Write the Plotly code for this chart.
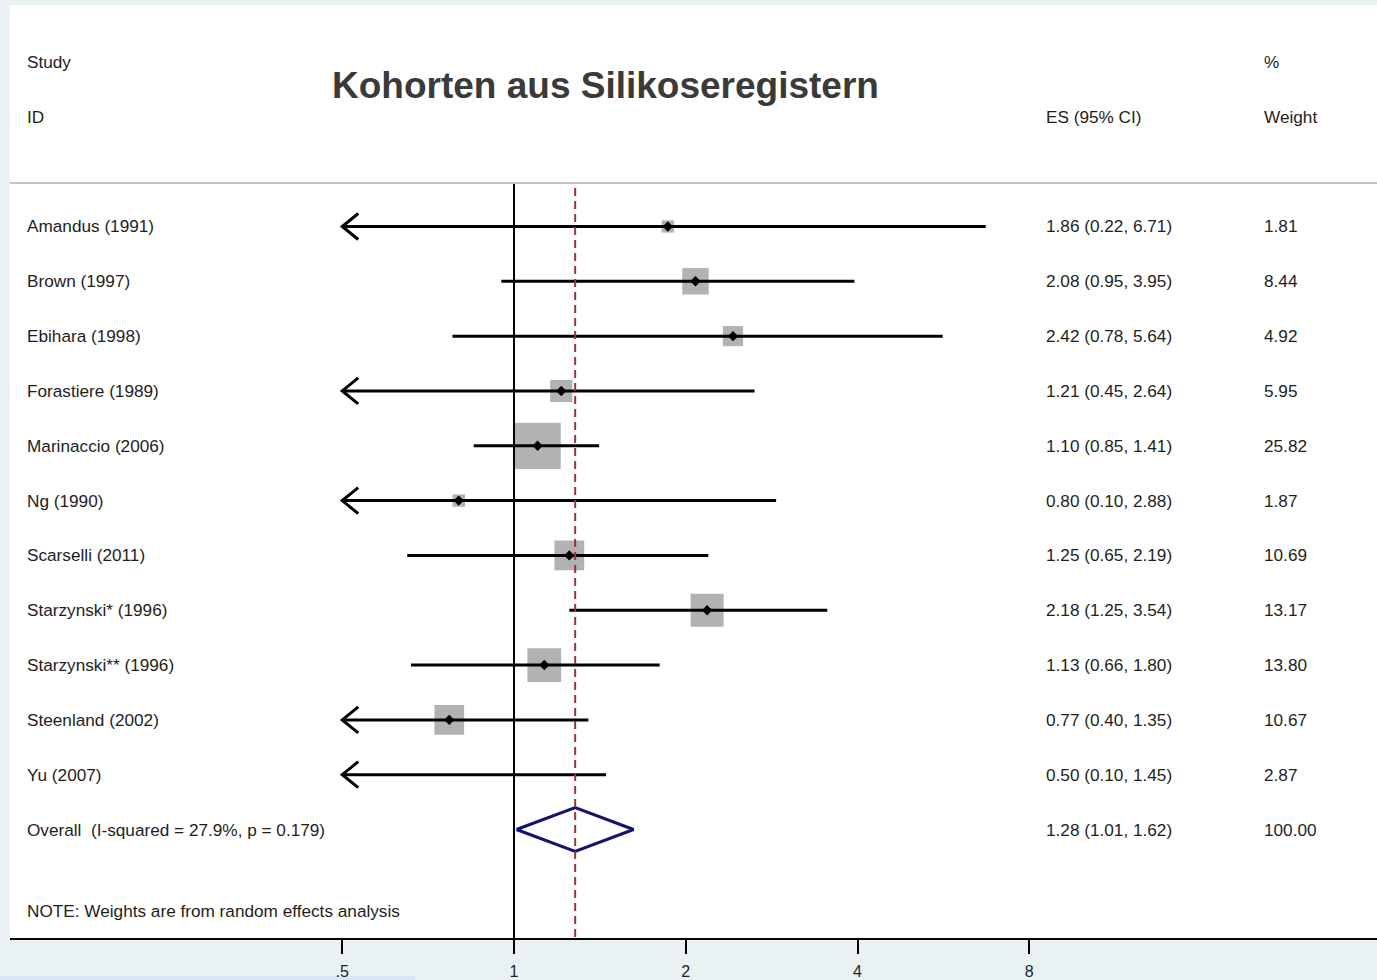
import math
import plotly.graph_objects as go

# ---- study data (ES with 95% CI, random-effects % weight) ----
studies = ["Amandus (1991)", "Brown (1997)", "Ebihara (1998)", "Forastiere (1989)",
           "Marinaccio (2006)", "Ng (1990)", "Scarselli (2011)", "Starzynski* (1996)",
           "Starzynski** (1996)", "Steenland (2002)", "Yu (2007)"]
es = [1.86, 2.08, 2.42, 1.21, 1.10, 0.80, 1.25, 2.18, 1.13, 0.77, 0.50]
ci_low = [0.22, 0.95, 0.78, 0.45, 0.85, 0.10, 0.65, 1.25, 0.66, 0.40, 0.10]
ci_high = [6.71, 3.95, 5.64, 2.64, 1.41, 2.88, 2.19, 3.54, 1.80, 1.35, 1.45]
weights = [1.81, 8.44, 4.92, 5.95, 25.82, 1.87, 10.69, 13.17, 13.80, 10.67, 2.87]

overall_label = "Overall  (I-squared = 27.9%, p = 0.179)"
overall_es, overall_low, overall_high = 1.28, 1.01, 1.62
overall_weight = 100.00

tick_vals = [0.5, 1, 2, 4, 8]
tick_text = [".5", "1", "2", "4", "8"]

title = "Kohorten aus Silikoseregistern"
note = "NOTE: Weights are from random effects analysis"

# ---- geometry ----
W, H = 1377, 980
x_min = 0.5                      # left clipping limit of the axis
px_per_dec = 570.6               # pixels per log10 unit
dom_left = 10
one_px = 514 - dom_left
r0 = -one_px / px_per_dec
r1 = (W - dom_left - one_px) / px_per_dec

row_px = 54.82
row1_px = 226.5
top_px, bot_px = 5, 938
y_top = 1 - (row1_px - top_px) / row_px
y_bot = 1 + (bot_px - row1_px) / row_px

n = len(studies)
rows = list(range(1, n + 1))
overall_row = n + 1

font_fam = "Liberation Sans, Arial, sans-serif"
txt_col = "#1e1e1e"

fig = go.Figure()

# weight boxes (area proportional to weight)
bx, by, bs = [], [], []
for e, r, w in zip(es, rows, weights):
    if e > x_min:
        bx.append(e); by.append(r); bs.append(9.1 * math.sqrt(w))
fig.add_trace(go.Scatter(x=bx, y=by, mode="markers",
                         marker=dict(symbol="square", size=bs, color="#b2b2b2",
                                     opacity=1, line=dict(width=0)),
                         hoverinfo="skip", showlegend=False))

# confidence interval lines, clipped at the axis minimum
lx, ly = [], []
for lo, hi, r in zip(ci_low, ci_high, rows):
    lx += [max(lo, x_min), hi, None]
    ly += [r, r, None]
fig.add_trace(go.Scatter(x=lx, y=ly, mode="lines",
                         line=dict(color="black", width=3),
                         hoverinfo="skip", showlegend=False))

# open arrowheads where the lower limit runs off the axis
arm_x = x_min * 10 ** (16 / px_per_dec)
arm_y = 13 / row_px
ax, ay = [], []
for lo, r in zip(ci_low, rows):
    if lo < x_min:
        ax += [arm_x, x_min, arm_x, None]
        ay += [r - arm_y, r, r + arm_y, None]
fig.add_trace(go.Scatter(x=ax, y=ay, mode="lines",
                         line=dict(color="black", width=3),
                         hoverinfo="skip", showlegend=False))

# point estimates
px_, py_ = [], []
for e, r in zip(es, rows):
    if e > x_min:
        px_.append(e); py_.append(r)
fig.add_trace(go.Scatter(x=px_, y=py_, mode="markers",
                         marker=dict(symbol="diamond", size=8, color="black"),
                         hoverinfo="skip", showlegend=False))

# pooled estimate diamond
dh = 22 / row_px
fig.add_trace(go.Scatter(
    x=[overall_low, overall_es, overall_high, overall_es, overall_low],
    y=[overall_row, overall_row - dh, overall_row, overall_row + dh, overall_row],
    mode="lines", line=dict(color="#141470", width=3),
    hoverinfo="skip", showlegend=False))

# line of no effect
y_sep = 1 + (183 - row1_px) / row_px
fig.add_trace(go.Scatter(x=[1, 1], y=[y_sep, y_bot], mode="lines",
                         line=dict(color="black", width=2),
                         hoverinfo="skip", showlegend=False))

# dashed line at the pooled estimate
y_dash0 = 1 + (188 - row1_px) / row_px
fig.add_trace(go.Scatter(x=[overall_es, overall_es], y=[y_dash0, y_bot], mode="lines",
                         line=dict(color="#a0303a", width=2, dash="8px,5px"),
                         hoverinfo="skip", showlegend=False))

# ---- text columns ----
ann = []
col_lab = 25 / W
col_es = 1044 / W
col_w = 1262 / W


def txt(x, y, s, size=17.2, **kw):
    d = dict(x=x, y=y, xref="paper", yref="y", text=s, showarrow=False,
             xanchor="left", yanchor="middle",
             font=dict(family=font_fam, size=size, color=txt_col))
    d.update(kw)
    ann.append(d)


txt(col_lab, -2, "Study")
txt(col_lab, -1, "ID")
txt(col_w, -2, "%")
txt(col_es, -1, "ES (95% CI)")
txt(col_w, -1, "Weight")

for s, e, lo, hi, w, r in zip(studies, es, ci_low, ci_high, weights, rows):
    txt(col_lab, r, s)
    txt(col_es, r, f"{e:.2f} ({lo:.2f}, {hi:.2f})")
    txt(col_w, r, f"{w:.2f}")

txt(col_lab, overall_row, overall_label)
txt(col_es, overall_row, f"{overall_es:.2f} ({overall_low:.2f}, {overall_high:.2f})")
txt(col_w, overall_row, f"{overall_weight:.2f}")

txt(col_lab, 1 + (911 - row1_px) / row_px, note)

ann.append(dict(x=605 / W, y=1 + (86 - row1_px) / row_px, xref="paper", yref="y",
                text=f"<b>{title}</b>", showarrow=False, xanchor="center",
                yanchor="middle",
                font=dict(family=font_fam, size=37, color="#3a3a3a")))

shapes = [
    # header separator
    dict(type="line", xref="paper", yref="y", x0=dom_left / W, x1=1,
         y0=y_sep, y1=y_sep, line=dict(color="#c4c4c4", width=2)),
    # strip along the bottom edge
    dict(type="rect", xref="paper", yref="paper", x0=0, x1=415 / W,
         y0=0, y1=4 / H, fillcolor="#d8e6f4", line=dict(width=0), layer="below"),
]

fig.update_layout(
    width=W, height=H,
    margin=dict(l=0, r=0, t=0, b=0),
    paper_bgcolor="#e9f1f3",
    plot_bgcolor="white",
    annotations=ann,
    shapes=shapes,
    xaxis=dict(type="log", range=[r0, r1], domain=[dom_left / W, 1],
               tickvals=tick_vals, ticktext=tick_text,
               ticks="outside", ticklen=14, tickwidth=2, tickcolor="black",
               ticklabelstandoff=4,
               showline=True, linecolor="black", linewidth=2,
               showgrid=False, zeroline=False,
               tickfont=dict(family=font_fam, size=16, color=txt_col)),
    yaxis=dict(range=[y_bot, y_top], domain=[(H - bot_px) / H, (H - top_px) / H],
               visible=False),
)

fig.write_html("out.html")
